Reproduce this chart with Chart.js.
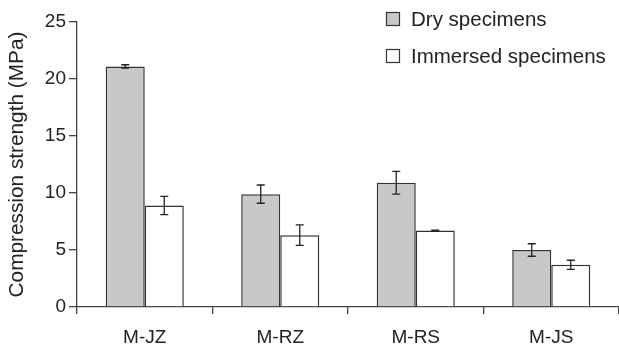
<!DOCTYPE html>
<html>
<head>
<meta charset="utf-8">
<script src="https://cdn.jsdelivr.net/npm/chart.js@4.4.1/dist/chart.umd.min.js"></script>
<style>
  html, body { margin: 0; padding: 0; background: #fff; }
  #wrap { width: 619px; height: 352px; }
</style>
</head>
<body>
<div id="wrap"><canvas id="strengthChart" width="619" height="352"></canvas></div>
<script>
const mortars = ["M-JZ", "M-RZ", "M-RS", "M-JS"];
const dryStrength = [21.1, 9.9, 10.9, 5.0];
const dryError = [0.15, 0.8, 1.0, 0.55];
const immersedStrength = [8.9, 6.3, 6.7, 3.7];
const immersedError = [0.8, 0.9, 0.05, 0.4];
const yTicks = [0, 5, 10, 15, 20, 25];

const FONT = "'Liberation Sans', Arial, sans-serif";
const INK = "#222";
const AXIS = "#444";

// whiskers at mean +/- sd, with small caps
const errorBars = {
  id: "errorBars",
  afterDatasetsDraw(chart) {
    const ctx = chart.ctx;
    const y = chart.scales.y;
    ctx.save();
    ctx.strokeStyle = INK;
    ctx.lineWidth = 1.3;
    chart.data.datasets.forEach((ds, i) => {
      chart.getDatasetMeta(i).data.forEach((bar, j) => {
        const v = ds.data[j];
        const e = ds.errors[j];
        const top = y.getPixelForValue(v + e);
        const bot = y.getPixelForValue(v - e);
        ctx.beginPath();
        ctx.moveTo(bar.x, top);
        ctx.lineTo(bar.x, bot);
        ctx.moveTo(bar.x - 4, top);
        ctx.lineTo(bar.x + 4, top);
        ctx.moveTo(bar.x - 4, bot);
        ctx.lineTo(bar.x + 4, bot);
        ctx.stroke();
      });
    });
    ctx.restore();
  }
};

// legend in the top right corner, one row per dataset
const boxLegend = {
  id: "boxLegend",
  afterDraw(chart) {
    const ctx = chart.ctx;
    ctx.save();
    ctx.font = "20.5px " + FONT;
    ctx.textBaseline = "alphabetic";
    chart.data.datasets.forEach((ds, i) => {
      const base = 26 + i * 37;
      ctx.fillStyle = ds.backgroundColor;
      ctx.fillRect(386.5, base - 13.5, 13, 13);
      ctx.strokeStyle = "#333";
      ctx.lineWidth = 1.2;
      ctx.strokeRect(386.5, base - 13.5, 13, 13);
      ctx.fillStyle = INK;
      ctx.fillText(ds.label, 411, base);
    });
    ctx.restore();
  }
};

new Chart(document.getElementById("strengthChart"), {
  type: "bar",
  data: {
    labels: mortars,
    datasets: [
      {
        label: "Dry specimens",
        data: dryStrength,
        errors: dryError,
        backgroundColor: "#c8c8c8",
        borderColor: "#333",
        borderWidth: 1.5,
      },
      {
        label: "Immersed specimens",
        data: immersedStrength,
        errors: immersedError,
        backgroundColor: "#ffffff",
        borderColor: "#333",
        borderWidth: 1.5,
      },
    ],
  },
  options: {
    responsive: false,
    animation: false,
    layout: { padding: { top: 22, right: 0, left: 0, bottom: 0 } },
    datasets: {
      bar: { categoryPercentage: 0.576, barPercentage: 1.0 },
    },
    plugins: {
      legend: { display: false },
      tooltip: { enabled: false },
    },
    scales: {
      x: {
        grid: {
          display: true,
          drawOnChartArea: false,
          offset: true,
          tickLength: 7,
          color: AXIS,
          lineWidth: 1.3,
        },
        border: { color: AXIS, width: 1.3 },
        ticks: { color: INK, font: { family: FONT, size: 19 }, padding: 12 },
        afterFit(s) { s.height = 45; },
      },
      y: {
        min: 0,
        max: 25,
        afterBuildTicks(s) { s.ticks = yTicks.map(v => ({ value: v })); },
        grid: {
          drawOnChartArea: false,
          tickLength: 8,
          color: AXIS,
          lineWidth: 1.3,
        },
        border: { color: AXIS, width: 1.3 },
        ticks: { color: INK, font: { family: FONT, size: 19 }, padding: 3 },
        title: {
          display: true,
          text: "Compression strength (MPa)",
          color: INK,
          font: { family: FONT, size: 20.8 },
          padding: { top: 5, bottom: 0 },
        },
        afterFit(s) { s.width = 77; },
      },
    },
  },
  plugins: [errorBars, boxLegend],
});
</script>
</body>
</html>
